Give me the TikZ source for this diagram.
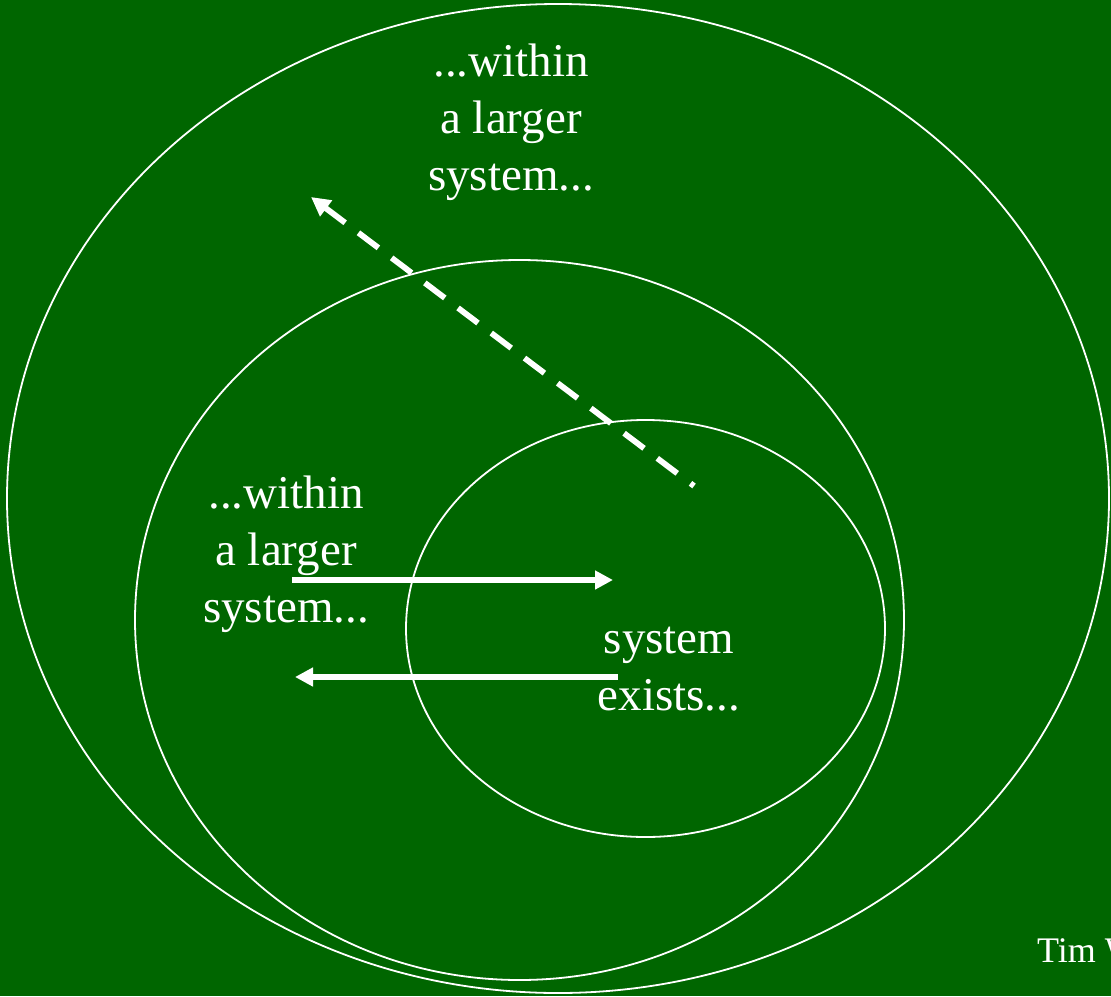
\documentclass[tikz,border=0pt]{standalone}
\usepackage{fontspec}
\setmainfont{Liberation Serif}
\usetikzlibrary{arrows.meta,shapes.geometric}
\definecolor{bg}{RGB}{0,102,0}
\begin{document}
\begin{tikzpicture}[x=1pt,y=-1pt,
  ring/.style={draw=white, line width=1.8pt, ellipse, inner sep=0pt},
  lbl/.style={text=white, align=center, inner sep=0pt, font=\fontsize{47}{57}\selectfont},
  small/.style={text=white, inner sep=0pt, font=\fontsize{36}{43}\selectfont},
  flow/.style={draw=white, line width=5.5pt, -{Triangle[length=18pt,width=18pt]}},
  dflow/.style={draw=white, line width=5.8pt, {Triangle[length=19pt,width=19pt]}-, dash pattern=on 25pt off 16.6pt}
]
\fill[bg] (0,0) rectangle (1111,996);
\useasboundingbox (0,0) rectangle (1111,996);
\clip (0,0) rectangle (1111,996);
% ellipses
\node[ring, minimum width=1102pt, minimum height=989pt] (outer) at (558,498.5) {};
\node[ring, minimum width=769pt, minimum height=720pt] (middle) at (519.5,620) {};
\node[ring, minimum width=479pt, minimum height=417pt] (inner) at (645.5,628.5) {};
% texts (anchor base = baseline of last line)
\node[lbl, anchor=base] (tA) at (511,190) {...within\\a larger\\system...};
\node[lbl, anchor=base] (tB) at (286,622) {...within\\a larger\\system...};
\node[lbl, anchor=base] (tC) at (669,710) {system\\exists...};
\node[small, anchor=base west] (tim) at (1037,962) {Tim W};
% arrows
\coordinate (a1s) at (292,580);
\coordinate (a1e) at (613,580);
\coordinate (a2s) at (618,677);
\coordinate (a2e) at (295,677);
\coordinate (dtip) at (311,197);
\coordinate (dend) at (694,486);
\draw[flow] (a1s) -- (a1e);
\draw[flow] (a2s) -- (a2e);
\draw[dflow] (dtip) -- (dend);
\end{tikzpicture}
\end{document}
